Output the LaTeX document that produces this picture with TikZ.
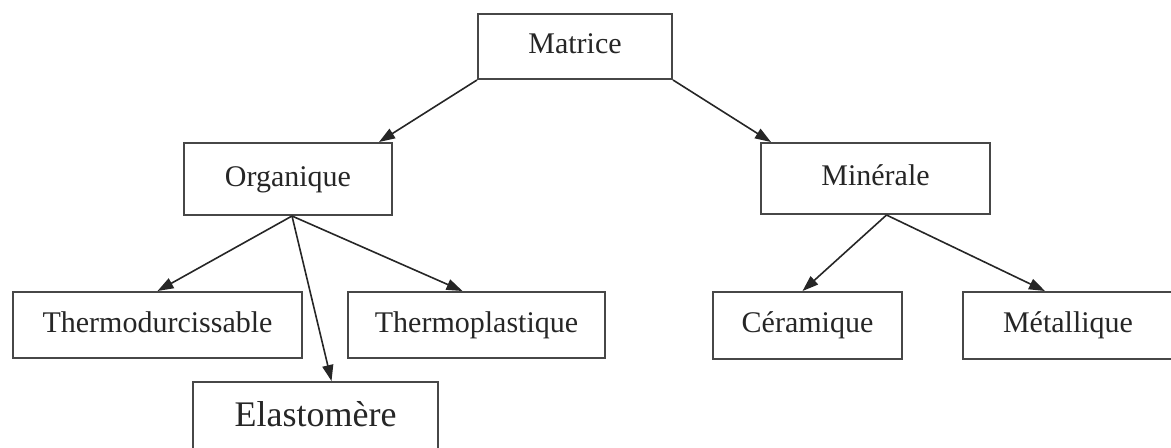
\documentclass[tikz,border=0pt]{standalone}
\usepackage{fontspec}
\setmainfont{Liberation Serif}
\usetikzlibrary{arrows.meta,calc}
\definecolor{ink}{HTML}{262626}

\begin{document}
\begin{tikzpicture}[
  x=0.5pt, y=-0.5pt,
  box/.style={draw=ink!85, line width=1pt, fill=white, text=ink, font=\fontsize{15}{18}\selectfont,
              inner sep=0pt, text height=10.5pt, text depth=3.2pt},
  arr/.style={-{Triangle[length=8pt,width=5.5pt]}, line width=0.8pt, color=ink}
]
\useasboundingbox (0,0) rectangle (1171,447);

% Root
\node[box, minimum width=97pt, minimum height=32.5pt] (matrice) at (575,46.5) {Matrice};

% Second level
\node[box, minimum width=104pt, minimum height=36pt] (organique) at (288,179) {Organique};
\node[box, minimum width=114.5pt, minimum height=35.5pt] (minerale) at (875.5,178.5) {Minérale};

% Organic family
\node[box, minimum width=144.5pt, minimum height=33pt] (thermodur) at (157.5,325) {Thermodurcissable};
\node[box, minimum width=128.5pt, minimum height=33pt] (thermoplast) at (476.5,325) {Thermoplastique};
\node[box, anchor=north, minimum width=122.5pt, text height=22pt, text depth=22pt,
      font=\fontsize{18}{21}\selectfont] (elastomere) at (315.5,381) {Elastomère};

% Mineral family
\node[box, minimum width=94.5pt, minimum height=33.5pt] (ceramique) at (807.5,325.5) {Céramique};
\node[box, minimum width=105pt, minimum height=33.5pt] (metallique) at (1068,325.5) {Métallique};

\draw[arr] (matrice.south west) -- ($(organique.north east)+(-14,0)$);
\draw[arr] (matrice.south east) -- ($(minerale.north west)+(11,0)$);
\draw[arr] ($(organique.south)+(4,0)$) -- (thermodur.north);
\draw[arr] ($(organique.south)+(4,0)$) -- ($(thermoplast.north)+(-14,0)$);
\draw[arr] ($(organique.south)+(4,0)$) -- ($(elastomere.north)+(16,0)$);
\draw[arr] ($(minerale.south)+(11,0)$) -- ($(ceramique.north)+(-5,0)$);
\draw[arr] ($(minerale.south)+(11,0)$) -- ($(metallique.north)+(-23,0)$);
\end{tikzpicture}
\end{document}
